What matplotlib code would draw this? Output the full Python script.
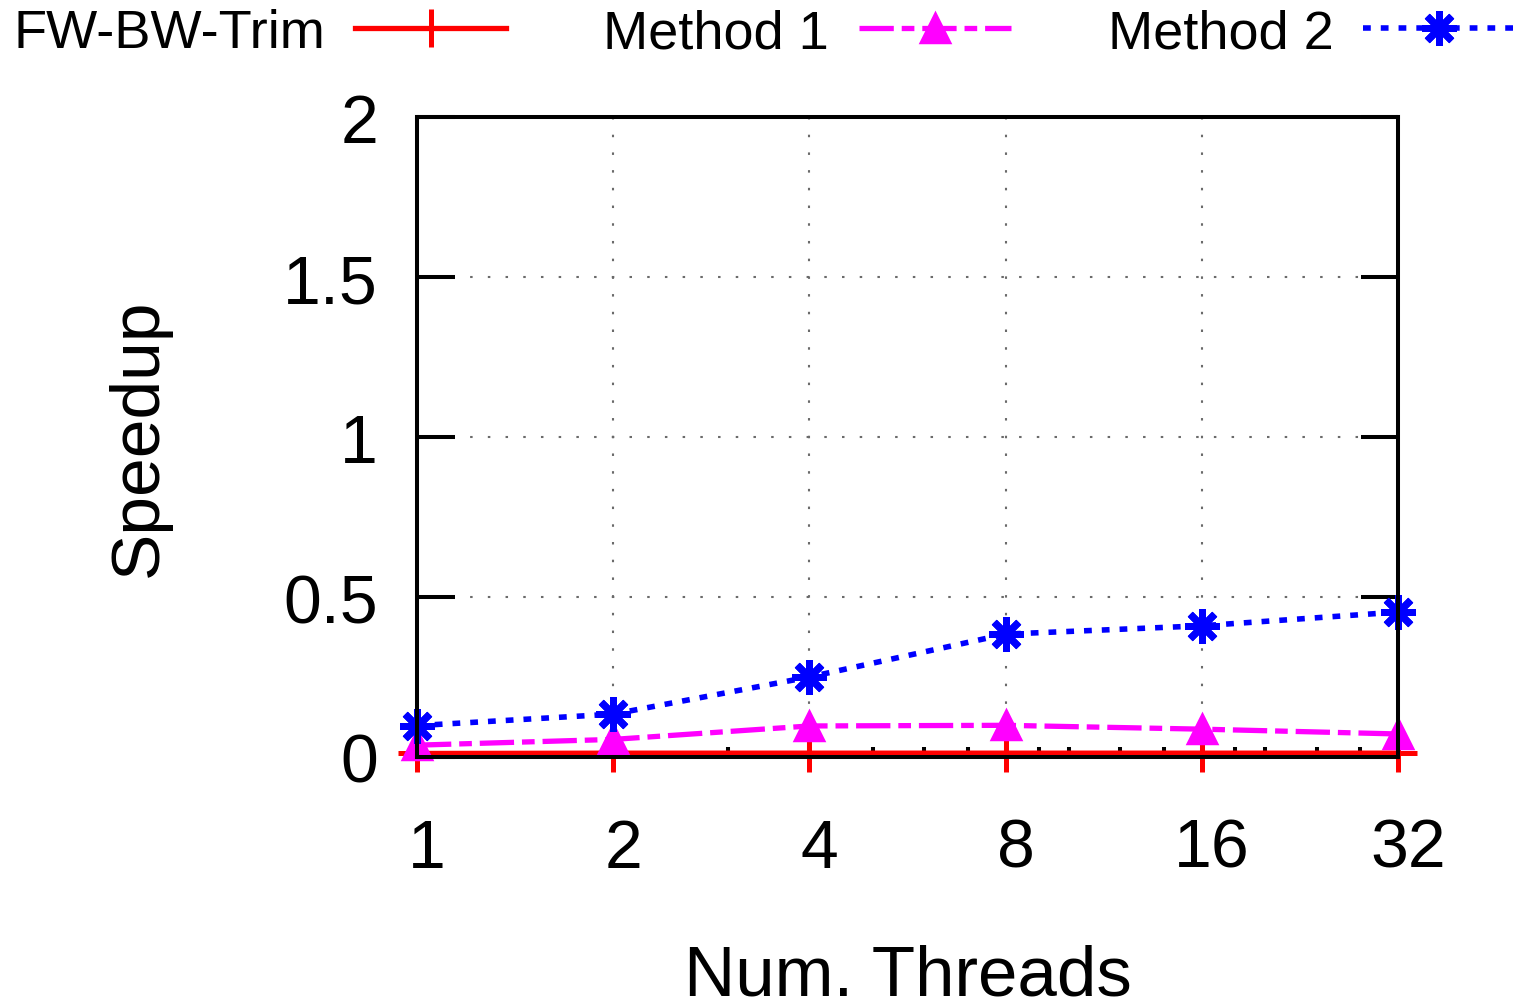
import matplotlib
matplotlib.use("Agg")
import matplotlib.pyplot as plt
import matplotlib.transforms as mtransforms
from matplotlib.ticker import FixedLocator, NullFormatter

plt.rcParams['font.family'] = ['Liberation Sans', 'DejaVu Sans']

threads = [1, 2, 4, 8, 16, 32]
thread_labels = ["1", "2", "4", "8", "16", "32"]
fwbw_trim = [0.011, 0.012, 0.012, 0.012, 0.012, 0.012]
method1 = [0.037, 0.055, 0.097, 0.099, 0.087, 0.072]
method2 = [0.098, 0.134, 0.250, 0.384, 0.410, 0.453]
y_ticks = [0, 0.5, 1, 1.5, 2]
y_tick_labels = ["0", "0.5", "1", "1.5", "2"]
minor_x = [3, 5, 6, 7, 9, 10, 12, 14, 18, 20, 24, 28]

fig = plt.figure(figsize=(15.2, 10.04), dpi=100)
ax = fig.add_axes([417/1520, 1-758/1004, (1398-417)/1520, (758-118)/1004])

ax.set_xscale('log', base=2)
ax.set_xlim(1, 32)
ax.set_ylim(0, 2)

l1, = ax.plot(threads, fwbw_trim, color='#ff0000', lw=3.8, marker='+', ms=27, mew=3.6,
              clip_on=False, zorder=5)
l2, = ax.plot(threads, method1, color='#ff00ff', lw=3.8, marker='^', ms=20, mew=2.5,
              linestyle=(0, (6.5, 1.5, 2.4, 1.5)), clip_on=False, zorder=6)
l3, = ax.plot(threads, method2, color='#0000ff', lw=4.0, marker=(8, 2, 0), ms=25, mew=5,
              linestyle=(0, (1.4, 1.8)), clip_on=False, zorder=7)

ax.xaxis.set_major_locator(FixedLocator(threads))
ax.set_xticklabels(thread_labels)
ax.xaxis.set_minor_locator(FixedLocator(minor_x))
ax.xaxis.set_minor_formatter(NullFormatter())
ax.set_yticks(y_ticks)
ax.set_yticklabels(y_tick_labels)

ax.tick_params(axis='x', which='major', direction='in', length=14, width=2.9,
               labelsize=49, pad=43, top=False)
ax.tick_params(axis='x', which='minor', direction='in', length=7, width=2.9, top=False)
ax.tick_params(axis='y', which='major', direction='in', length=27, width=2.9,
               labelsize=49, pad=28, right=True)
ax.tick_params(axis='y', which='minor', left=False, right=False)

offset = mtransforms.ScaledTranslation(10/100, 0, fig.dpi_scale_trans)
for lab in ax.get_xticklabels():
    lab.set_transform(lab.get_transform() + offset)

ax.grid(True, which='major', color='#6a6a6a', lw=1.5, linestyle=(0, (1.2, 7.3)))
for s in ax.spines.values():
    s.set_linewidth(2.9)
    s.set_zorder(8)

ax.set_xlabel("Num. Threads", fontsize=51, labelpad=45)
ax.set_ylabel("Speedup", fontsize=50, labelpad=81)

fig.legend([l1, l2, l3], ["FW-BW-Trim", "Method 1", "Method 2"],
           loc='upper center', bbox_to_anchor=(764/1520, 1.018), ncol=3,
           markerfirst=False, frameon=False, fontsize=39, handlelength=2.8,
           handletextpad=0.55, columnspacing=1.79, borderaxespad=0.1)

fig.savefig("out.png", dpi=100)
